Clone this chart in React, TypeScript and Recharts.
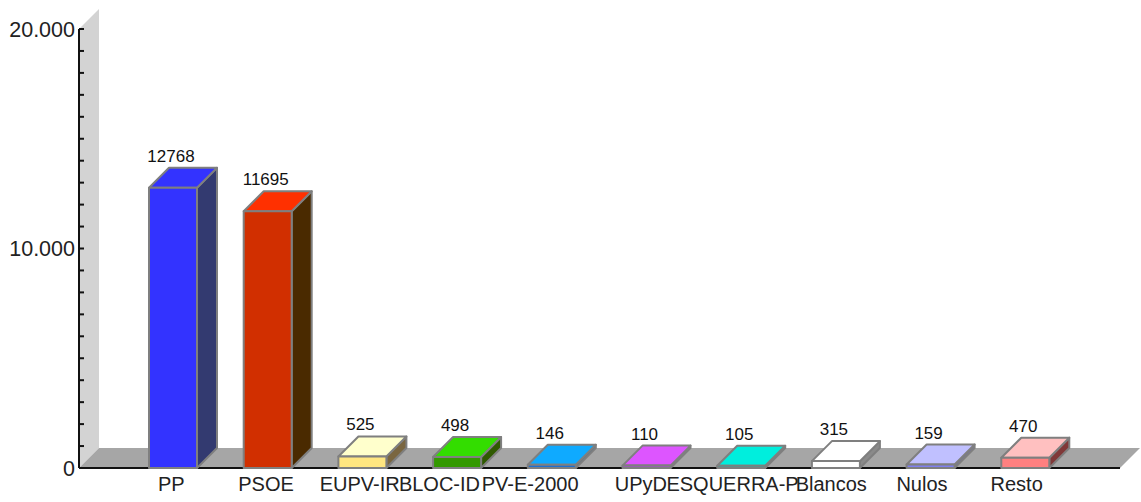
import { BarChart, Bar, XAxis, YAxis, LabelList, ReferenceArea } from 'recharts';

const parties = ['PP', 'PSOE', 'EUPV-IR', 'BLOC-ID', 'PV-E-2000', 'UPyD', 'ESQUERRA-P', 'Blancos', 'Nulos', 'Resto'];
const votes = [12768, 11695, 525, 498, 146, 110, 105, 315, 159, 470];
const yTicks = [
  0, 1000, 2000, 3000, 4000, 5000, 6000, 7000, 8000, 9000, 10000,
  11000, 12000, 13000, 14000, 15000, 16000, 17000, 18000, 19000, 20000,
];

const frontColors = ['#3333ff', '#d12f00', '#ffe680', '#339900', '#1f6fd0', '#b040e0', '#00c0b0', '#ffffff', '#8080f0', '#ff8080'];
const topColors = ['#3333ff', '#ff3000', '#ffffcc', '#33dd00', '#0faaff', '#dd55ff', '#00eedd', '#ffffff', '#c0c0ff', '#ffc0c0'];
const sideColors = ['#333a70', '#4a2a00', '#7a6640', '#2f5a00', '#1c5f8f', '#7a4a9a', '#108078', '#8a8a8a', '#7070a0', '#803838'];

// the source chart doesn't center long labels on the bar
const labelShift = [-2, -2, -3, -18, -22, -6, -9, -5, -9, -9];

const data = parties.map((party, i) => ({ party, votes: votes[i] }));

const DEPTH = 20;
const PAD = 47;
const EDGE = '#7f7f7f';

const Backdrop = ({ x, y, width, height }: any) => {
  const left = x - PAD;
  const right = x + width + PAD;
  const bottom = y + height;
  return (
    <g>
      <polygon
        points={`${left},${y} ${left + DEPTH},${y - DEPTH} ${left + DEPTH},${bottom - DEPTH} ${left},${bottom}`}
        fill="#d3d3d3"
      />
      <polygon
        points={`${left},${bottom} ${left + DEPTH},${bottom - DEPTH} ${right + DEPTH},${bottom - DEPTH} ${right},${bottom}`}
        fill="#a6a6a6"
      />
    </g>
  );
};

const Bar3D = ({ x, y, width, height, index }: any) => {
  const right = x + width;
  const bottom = y + height;
  return (
    <g stroke={EDGE} strokeWidth={2} strokeLinejoin="round">
      <polygon
        points={`${right},${y} ${right + DEPTH},${y - DEPTH} ${right + DEPTH},${bottom - DEPTH} ${right},${bottom}`}
        fill={sideColors[index]}
      />
      <polygon
        points={`${x},${y} ${x + DEPTH},${y - DEPTH} ${right + DEPTH},${y - DEPTH} ${right},${y}`}
        fill={topColors[index]}
      />
      <rect x={x} y={y} width={width} height={height} fill={frontColors[index]} />
    </g>
  );
};

const YTick = ({ x, y, payload }: any) => {
  const major = payload.value % 10000 === 0;
  return (
    <g>
      <line x1={x} y1={y} x2={x + 5} y2={y} stroke="#111" strokeWidth={2} />
      {major && (
        <text x={x - 4} y={y} dy="0.36em" textAnchor="end" fontSize={21.5} fill="#222">
          {payload.value.toLocaleString('de-DE')}
        </text>
      )}
    </g>
  );
};

const XTick = ({ x, y, payload, index }: any) => (
  <text x={x + labelShift[index]} y={y + 9} dy="0.71em" textAnchor="middle" fontSize={20} fill="#222">
    {payload.value}
  </text>
);

export default function App() {
  return (
    <div style={{ position: 'absolute', left: 0, top: 0, fontFamily: '"Liberation Sans", Arial, sans-serif' }}>
      <BarChart
        width={1141}
        height={502}
        data={data}
        barSize={48}
        margin={{ top: 29, right: 21, bottom: 0, left: 0 }}
      >
        <XAxis
          dataKey="party"
          interval={0}
          height={34}
          padding={{ left: PAD, right: PAD }}
          tickLine={false}
          tickSize={0}
          tickMargin={0}
          axisLine={{ stroke: '#111', strokeWidth: 2 }}
          tick={<XTick />}
          zIndex={50}
        />
        <YAxis
          width={79}
          domain={[0, 20000]}
          ticks={yTicks}
          interval={0}
          tickLine={false}
          tickSize={0}
          tickMargin={0}
          axisLine={{ stroke: '#111', strokeWidth: 2 }}
          tick={<YTick />}
          zIndex={50}
        />
        <ReferenceArea ifOverflow="visible" y1={0} y2={20000} shape={<Backdrop />} zIndex={10} />
        <Bar dataKey="votes" isAnimationActive={false} shape={<Bar3D />}>
          <LabelList dataKey="votes" position="top" offset={26} dx={-2} fontSize={17} fill="#111" />
        </Bar>
      </BarChart>
    </div>
  );
}
